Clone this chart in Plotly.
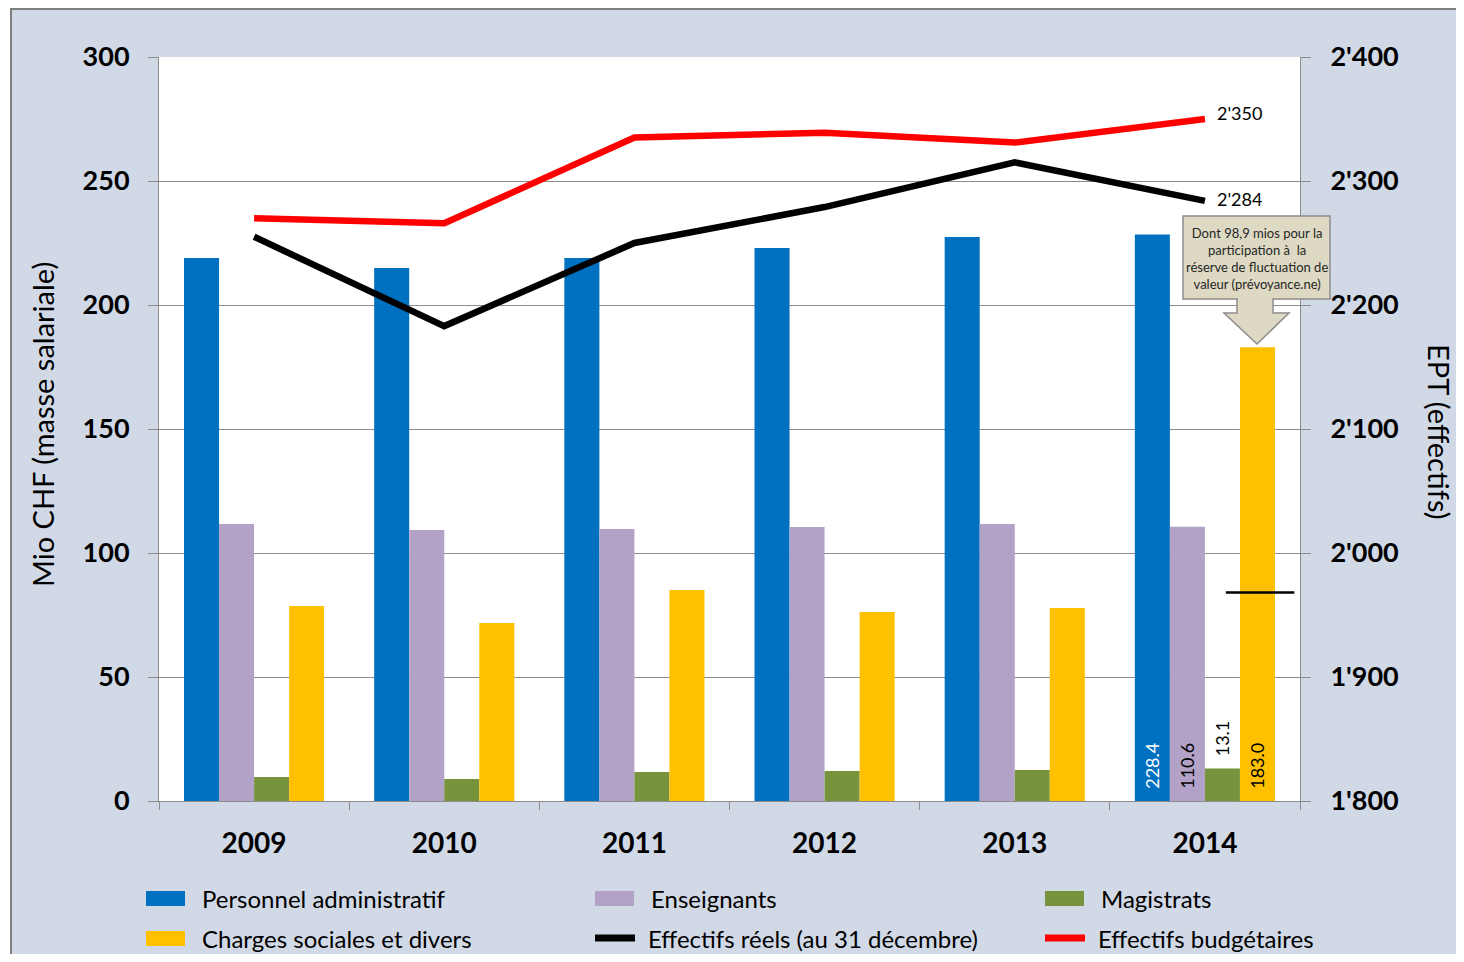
import plotly.graph_objects as go

# ---------------- data ----------------
years = ["2009", "2010", "2011", "2012", "2013", "2014"]
admin = [219.0, 214.9, 219.0, 223.0, 227.4, 228.4]
enseignants = [111.7, 109.3, 109.7, 110.5, 111.7, 110.6]
magistrats = [9.7, 8.9, 11.7, 12.1, 12.5, 13.1]
charges = [78.6, 71.8, 85.1, 76.2, 77.8, 183.0]
effectifs_reels = [2255, 2183, 2250, 2279, 2315, 2284]
effectifs_budget = [2270, 2266, 2335, 2339, 2331, 2350]
reserve_2014 = 98.9
left_ticks = [0, 50, 100, 150, 200, 250, 300]
right_ticks = [1800, 1900, 2000, 2100, 2200, 2300, 2400]
right_ticklabels = ["1'800", "1'900", "2'000", "2'100", "2'200", "2'300", "2'400"]
series_names = ["Personnel administratif", "Enseignants", "Magistrats",
                "Charges sociales et divers", "Effectifs réels (au 31 décembre)",
                "Effectifs budgétaires"]

# ---------------- style ----------------
FONT = "Lato, Carlito, Calibri, sans-serif"
C_BLUE, C_PURPLE, C_GREEN, C_YELLOW = "#0070C0", "#B3A2C7", "#77933C", "#FFC000"
C_RED, C_BLACK = "#FF0000", "#000000"
BG = "#D1D9E7"
GRID = "#8C8C8C"

OFF = 8                      # body margin of the html page
W, H = 1456, 946
# plot area in page pixel coordinates
PL, PR, PT, PB = 159, 1300, 57, 801


def px(x):
    return (x - PL) / (PR - PL)


def py(y):
    return (PB - y) / (PB - PT)


def last_label(vals, fmt):
    return [""] * (len(vals) - 1) + [fmt(vals[-1])]


fig = go.Figure()

NB = "\u00a0\u00a0"
bar_specs = [
    (admin, C_BLUE, "white", "inside"),
    (enseignants, C_PURPLE, "black", "inside"),
    (magistrats, C_GREEN, "black", "outside"),
    (charges, C_YELLOW, "black", "inside"),
]
for (vals, col, tcol, tpos), name in zip(bar_specs, series_names[:4]):
    fig.add_trace(go.Bar(
        x=years, y=vals, name=name, marker=dict(color=col, line=dict(width=0)),
        text=last_label(vals, lambda v: f"{NB}{v:.1f}"), textposition=tpos,
        insidetextanchor="start", textangle=-90, constraintext="none",
        textfont=dict(family=FONT, size=18, color=tcol),
        insidetextfont=dict(family=FONT, size=18, color=tcol),
        outsidetextfont=dict(family=FONT, size=18, color=tcol),
        cliponaxis=False, showlegend=False, hoverinfo="x+y",
    ))

for vals, col, name in [(effectifs_budget, C_RED, series_names[5]),
                        (effectifs_reels, C_BLACK, series_names[4])]:
    fig.add_trace(go.Scatter(
        x=years, y=vals, yaxis="y2", name=name, mode="lines",
        line=dict(color=col, width=6.5),
        cliponaxis=False, showlegend=False,
    ))

shapes = []
# outer chart background (fill) and its visible top/left borders
shapes.append(dict(type="rect", xref="paper", yref="paper",
                   x0=px(10), x1=px(1490), y0=py(990), y1=py(8),
                   fillcolor=BG, line=dict(width=0), layer="below"))
shapes.append(dict(type="line", xref="paper", yref="paper",
                   x0=px(10), x1=px(1490), y0=py(9), y1=py(9),
                   line=dict(color="#7F7F7F", width=2), layer="below"))
shapes.append(dict(type="line", xref="paper", yref="paper",
                   x0=px(11), x1=px(11), y0=py(990), y1=py(8),
                   line=dict(color="#7F7F7F", width=2), layer="below"))
# plot area white
shapes.append(dict(type="rect", xref="paper", yref="paper",
                   x0=0, x1=1, y0=0, y1=1,
                   fillcolor="white", line=dict(width=0), layer="below"))

# short marker line at 2014 charges minus reserve
last_idx = len(years) - 1
ref_val = charges[-1] - reserve_2014
shapes.append(dict(type="line", xref="x", yref="y",
                   x0=last_idx + 0.11, x1=last_idx + 0.47, y0=ref_val, y1=ref_val,
                   line=dict(color="black", width=2.5)))

# callout box with arrow
pts = [(1183, 216), (1330, 216), (1330, 299), (1273, 299), (1273, 313),
       (1289, 313), (1257, 344), (1224, 313), (1237, 313), (1237, 299),
       (1183, 299)]
path = "M " + " L ".join(f"{px(a):.5f},{py(b):.5f}" for a, b in pts) + " Z"
shapes.append(dict(type="path", xref="paper", yref="paper", path=path,
                   fillcolor="#DDD9C3", line=dict(color="#8C8C8C", width=1.5)))

annotations = [
    dict(xref="paper", yref="paper", x=px(1256.5), y=py(258), showarrow=False,
         text="Dont 98,9 mios pour la<br>participation à  la<br>réserve de fluctuation de<br>valeur (prévoyance.ne)",
         font=dict(family=FONT, size=13, color="#262626"), align="center",
         xanchor="center", yanchor="middle"),
    dict(xref="paper", yref="paper", x=px(42), y=py(425), showarrow=False,
         text="Mio CHF (masse salariale)", textangle=-90,
         font=dict(family=FONT, size=29, color="black"),
         xanchor="center", yanchor="middle"),
    dict(xref="paper", yref="paper", x=px(1440), y=py(432), showarrow=False,
         text="EPT (effectifs)", textangle=90,
         font=dict(family=FONT, size=29, color="black"),
         xanchor="center", yanchor="middle"),
]

# end-of-line value labels
for vals, ys in ((effectifs_budget, 6), (effectifs_reels, 2)):
    annotations.append(dict(xref="x", yref="y2", x=last_idx, y=vals[-1],
                            text=f"{vals[-1]:,}".replace(",", "'"), showarrow=False,
                            xanchor="left", yanchor="middle", xshift=10, yshift=ys,
                            font=dict(family=FONT, size=18, color="black")))

# manual legend
legend_items = [
    (series_names[0], "rect", C_BLUE, 146, 898),
    (series_names[1], "rect", C_PURPLE, 595, 898),
    (series_names[2], "rect", C_GREEN, 1045, 898),
    (series_names[3], "rect", C_YELLOW, 146, 938),
    (series_names[4], "line", C_BLACK, 592, 938),
    (series_names[5], "line", C_RED, 1042, 938),
]
for name, kind, col, x0, yc in legend_items:
    if kind == "rect":
        shapes.append(dict(type="rect", xref="paper", yref="paper",
                           x0=px(x0), x1=px(x0 + 39), y0=py(yc + 8), y1=py(yc - 7),
                           fillcolor=col, line=dict(width=0)))
    else:
        shapes.append(dict(type="line", xref="paper", yref="paper",
                           x0=px(x0 + 3), x1=px(x0 + 43), y0=py(yc), y1=py(yc),
                           line=dict(color=col, width=7)))
    annotations.append(dict(xref="paper", yref="paper", x=px(x0 + 54), y=py(yc),
                            text=name, showarrow=False, xanchor="left", yanchor="middle",
                            font=dict(family=FONT, size=24, color="black")))

fig.update_layout(
    width=W, height=H,
    margin=dict(l=PL - OFF, r=W - (PR - OFF), t=PT - OFF, b=H - (PB - OFF), pad=0),
    paper_bgcolor="white", plot_bgcolor="rgba(0,0,0,0)",
    barmode="group", bargap=0.263, bargroupgap=0,
    font=dict(family=FONT, color="black"),
    showlegend=False,
    shapes=shapes, annotations=annotations,
    xaxis=dict(type="category", range=[-0.5, len(years) - 0.5],
               tickson="boundaries", ticks="outside", ticklen=8,
               tickcolor=GRID, showline=True, linecolor=GRID, linewidth=1,
               showgrid=False, ticklabelstandoff=17, tickangle=0,
               tickfont=dict(family=FONT, size=28, color="black", weight="bold")),
    yaxis=dict(range=[0, 300], tickvals=left_ticks, ticks="outside", ticklen=10,
               tickcolor=GRID, showline=True, linecolor=GRID, linewidth=1,
               showgrid=True, gridcolor=GRID, gridwidth=1, zeroline=False,
               ticklabelstandoff=13,
               tickfont=dict(family=FONT, size=27, color="black", weight="bold")),
    yaxis2=dict(range=[1800, 2400], overlaying="y", side="right",
                tickvals=right_ticks, ticktext=right_ticklabels,
                ticks="outside", ticklen=10, tickcolor=GRID,
                showline=True, linecolor=GRID, linewidth=1,
                showgrid=False, zeroline=False, ticklabelstandoff=14,
                tickfont=dict(family=FONT, size=27, color="black", weight="bold")),
)

fig.write_html("out.html")
